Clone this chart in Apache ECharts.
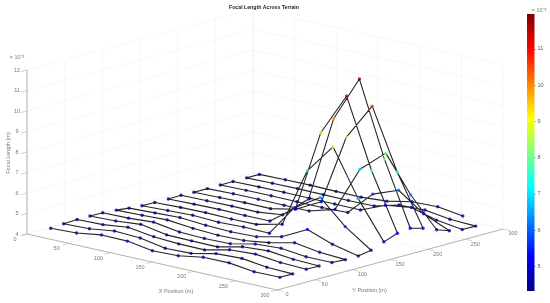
<!DOCTYPE html>
<html>
<head>
<meta charset="utf-8">
<title>Focal Length Across Terrain</title>
<script src="https://cdn.jsdelivr.net/npm/echarts@6/dist/echarts.min.js"></script>
<style>
  html, body { margin: 0; padding: 0; background: #fff; }
  #chart { width: 550px; height: 303px; }
</style>
</head>
<body>
<div id="chart"></div>
<script>
// Flight grid positions (m)
const xPositions = [24, 55, 85, 116, 146, 177, 207, 238, 268, 299];
const yPositions = [5, 22, 40, 57, 74, 92, 109, 126, 143, 161, 178, 195, 213, 230, 247, 265, 282];

// Focal length (x 10^-3 m), one row per y position, in x order
const focalLengthRows = [
  [4.45, 4.50, 4.68, 4.66, 4.46, 4.50, 4.70, 4.71, 4.55, 4.56],
  [4.50, 4.54, 4.70, 4.64, 4.42, 4.45, 4.71, 4.76, 4.60, 4.56],
  [4.53, 4.56, 4.71, 4.53, 4.45, 4.44, 4.72, 4.79, 4.65, 4.61],
  [4.53, 4.57, 4.68, 4.45, 4.43, 4.42, 4.70, 4.78, 4.64, 4.60],
  [4.52, 4.54, 4.62, 4.42, 4.38, 4.40, 4.66, 4.74, 4.60, 4.60],
  [4.47, 4.50, 4.55, 4.42, 4.36, 4.38, 4.55, 4.83, 4.64, 4.56],
  [4.40, 4.45, 4.50, 4.40, 4.36, 4.40, 4.67, 5.31, 4.86, 4.57],
  [4.35, 4.40, 4.44, 4.38, 4.42, 4.40, 5.92, 6.70, 5.55, 4.68],
  [4.34, 4.38, 4.40, 4.37, 4.38, 4.67, 7.55, 9.00, 6.76, 4.92],
  [4.33, 4.36, 4.38, 4.36, 4.37, 5.28, 9.23, 11.30, 7.93, 5.16],
  [4.34, 4.36, 4.37, 4.36, 4.50, 5.55, 9.74, 11.96, 8.33, 5.24],
  [4.32, 4.35, 4.37, 4.36, 4.60, 5.25, 8.68, 10.47, 7.53, 5.07],
  [4.32, 4.35, 4.36, 4.35, 4.34, 4.70, 6.93, 8.00, 6.23, 4.82],
  [4.33, 4.35, 4.36, 4.35, 4.34, 4.38, 5.55, 6.02, 5.15, 4.60],
  [4.33, 4.35, 4.36, 4.35, 4.34, 4.33, 4.84, 5.01, 4.67, 4.49],
  [4.33, 4.35, 4.36, 4.35, 4.34, 4.35, 4.67, 4.71, 4.53, 4.48],
  [4.33, 4.35, 4.36, 4.34, 4.33, 4.42, 4.66, 4.70, 4.52]
];

// Axis ticks
const xTicks = [0, 50, 100, 150, 200, 250, 300];
const yTicks = [0, 50, 100, 150, 200, 250, 300];
const zTicks = [4, 5, 6, 7, 8, 9, 10, 11, 12];
const colorTicks = [5, 6, 7, 8, 9, 10, 11];

const colorMin = 4.32;
const colorMax = 11.96;
const jet = ['#000080', '#0000ff', '#0080ff', '#00ffff', '#80ff80', '#ffff00', '#ff8000', '#ff0000', '#800000'];

const fontFamily = '"Liberation Sans", Arial, sans-serif';
const labelColor = '#555';

// Orthographic view of the 3D box on to the page, as the original camera had it
const project = (x, y, z) => [
  27 + 0.8333 * x + 0.7533 * y,
  234 + 0.1867 * x - 0.2033 * y - 20.5 * (z - 4)
];

// The scan goes up one row and back down the next
const flightPath = [];
focalLengthRows.forEach((row, r) => {
  const points = row.map((z, c) => [xPositions[c], yPositions[r], z]);
  if (r % 2 === 1) {
    points.reverse();
  }
  flightPath.push(...points);
});

const plotLine = (points, color, width) => ({
  type: 'line',
  data: points.map(p => project(p[0], p[1], p[2])),
  showSymbol: false,
  silent: true,
  lineStyle: { color, width },
  z: 1
});

const textLabels = (items, align, rotate) => ({
  type: 'scatter',
  symbolSize: 0,
  silent: true,
  data: items,
  label: {
    show: true,
    position: 'inside',
    formatter: p => p.data[2],
    color: labelColor,
    fontSize: 5.5,
    fontFamily,
    align,
    verticalAlign: 'middle',
    rotate
  },
  z: 5
});

const offset = (p, dx, dy, text) => [p[0] + dx, p[1] + dy, text];

const series = [];

// back walls and floor grid
const gridColor = '#f1f1f1';
xTicks.forEach(x => {
  series.push(plotLine([[x, 0, 4], [x, 300, 4], [x, 300, 12]], gridColor, 0.6));
});
yTicks.forEach(y => {
  series.push(plotLine([[0, y, 12], [0, y, 4], [300, y, 4]], gridColor, 0.6));
});
zTicks.forEach(z => {
  series.push(plotLine([[0, 0, z], [0, 300, z], [300, 300, z]], gridColor, 0.6));
});

// axis lines and ticks
const axisColor = '#b4b4b4';
series.push(plotLine([[0, 0, 12], [0, 0, 4], [300, 0, 4], [300, 300, 4]], axisColor, 1));
xTicks.forEach(x => series.push(plotLine([[x, 0, 4], [x, -8, 4]], axisColor, 0.6)));
yTicks.forEach(y => series.push(plotLine([[300, y, 4], [308, y, 4]], axisColor, 0.6)));
zTicks.forEach(z => series.push(plotLine([[0, 0, z], [0, -8, z]], axisColor, 0.6)));

// tick labels and axis names
series.push(textLabels(
  xTicks.map(x => offset(project(x, 0, 4), -12, 5.5, String(x)))
    .concat(yTicks.map(y => offset(project(300, y, 4), 10, 4.8, String(y))))
    .concat(zTicks.map(z => offset(project(0, 0, z), -10, 0, String(z)))),
  'center'
));
series.push(textLabels([[176, 291.5, 'X Position (m)'], [369.5, 290, 'Y Position (m)']], 'center'));
series.push(textLabels([[8, 153, 'Focal Length (m)']], 'center', 90));
series.push(textLabels([[17, 57.5, '× 10⁻³'], [539, 10, '× 10⁻³']], 'center'));

// the flight path itself
series.push(Object.assign(plotLine(flightPath, '#262626', 1.1), { z: 3 }));
const pointsSeriesIndex = series.length;
series.push({
  type: 'scatter',
  symbolSize: 3.4,
  silent: true,
  data: flightPath.map(p => project(p[0], p[1], p[2]).concat(p[2])),
  encode: { x: 0, y: 1 },
  z: 4
});

// colour bar: one full-height bar with the jet ramp, on its own small axis
series.push({
  type: 'bar',
  xAxisIndex: 1,
  yAxisIndex: 1,
  data: [colorMax],
  barWidth: '100%',
  silent: true,
  itemStyle: {
    color: new echarts.graphic.LinearGradient(0, 1, 0, 0,
      jet.map((color, i) => ({ offset: i / (jet.length - 1), color })))
  }
});

const chart = echarts.init(document.getElementById('chart'), null, { renderer: 'canvas' });
chart.setOption({
  animation: false,
  backgroundColor: '#fff',
  title: {
    text: 'Focal Length Across Terrain',
    left: 264,
    top: 8,
    textAlign: 'center',
    textVerticalAlign: 'middle',
    padding: 0,
    textStyle: { fontSize: 5.2, fontWeight: 'bold', color: '#222', fontFamily }
  },
  grid: [
    { left: 0, right: 0, top: 0, bottom: 0 },
    { left: 527, width: 7.5, top: 14, height: 277 }
  ],
  xAxis: [
    { type: 'value', min: 0, max: 550, show: false },
    { type: 'category', gridIndex: 1, data: ['focal length'], show: false }
  ],
  yAxis: [
    { type: 'value', min: 0, max: 303, inverse: true, show: false },
    {
      type: 'value',
      gridIndex: 1,
      position: 'right',
      min: colorMin,
      max: colorMax,
      axisLine: { show: false },
      splitLine: { show: false },
      axisTick: {
        show: true,
        inside: false,
        length: 1.5,
        customValues: colorTicks,
        lineStyle: { color: '#666', width: 0.5 }
      },
      axisLabel: {
        customValues: colorTicks,
        margin: 3,
        color: labelColor,
        fontSize: 5.5,
        fontFamily
      },
      z: 6
    }
  ],
  visualMap: {
    type: 'continuous',
    show: false,
    seriesIndex: pointsSeriesIndex,
    dimension: 2,
    min: colorMin,
    max: colorMax,
    inRange: { color: jet }
  },
  series
});
</script>
</body>
</html>
